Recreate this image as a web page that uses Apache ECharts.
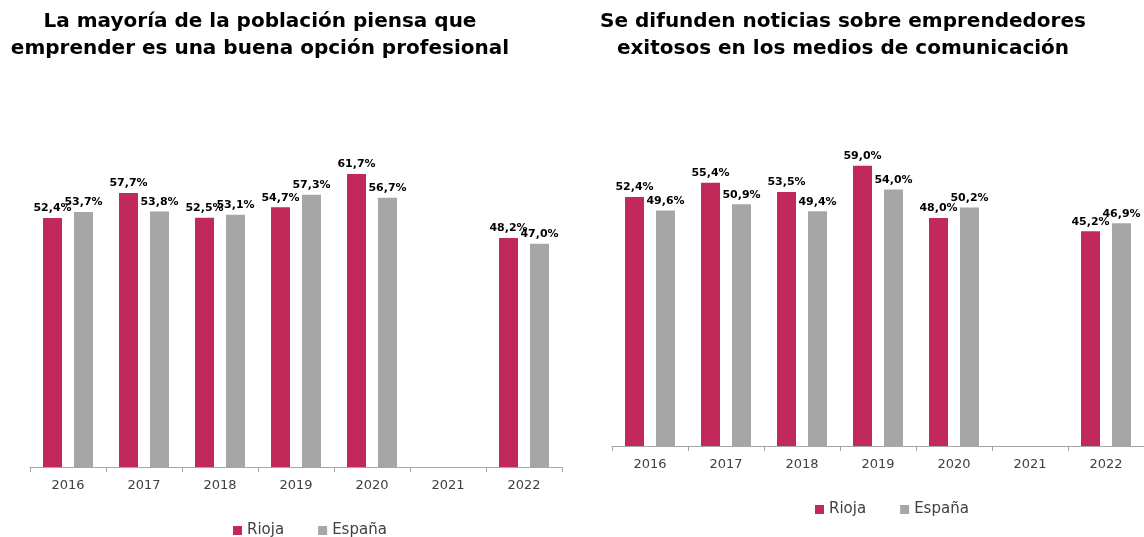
<!DOCTYPE html>
<html>
<head>
<meta charset="utf-8">
<script src="https://cdn.jsdelivr.net/npm/echarts@6/dist/echarts.min.js"></script>
<style>
  html, body { margin: 0; padding: 0; background: #fff; }
  #chart { width: 1144px; height: 537px; }
</style>
</head>
<body>
<div id="chart"></div>
<script>
const years = ['2016', '2017', '2018', '2019', '2020', '2021', '2022'];

// Izquierda: emprender es una buena opción profesional
const riojaOpcion = [52.4, 57.7, 52.5, 54.7, 61.7, null, 48.2];
const espanaOpcion = [53.7, 53.8, 53.1, 57.3, 56.7, null, 47.0];

// Derecha: noticias sobre emprendedores exitosos
const riojaNoticias = [52.4, 55.4, 53.5, 59.0, 48.0, null, 45.2];
const espanaNoticias = [49.6, 50.9, 49.4, 54.0, 50.2, null, 46.9];

const titleLeft = 'La mayoría de la población piensa que\nemprender es una buena opción profesional';
const titleRight = 'Se difunden noticias sobre emprendedores\nexitosos en los medios de comunicación';

const rojo = '#C0295A';
const gris = '#A6A6A6';
const font = 'DejaVu Sans';

function pct(v) {
    return v.toFixed(1).replace('.', ',') + '%';
}

function barSeries(name, data, color, idx) {
    return {
        name: name,
        type: 'bar',
        xAxisIndex: idx,
        yAxisIndex: idx,
        data: data,
        barWidth: 19,
        barGap: '63%',
        itemStyle: { color: color },
        label: {
            show: true,
            position: 'top',
            distance: 4,
            color: '#000',
            fontFamily: font,
            fontWeight: 'bold',
            fontSize: 11,
            formatter: function (p) { return pct(p.value); }
        }
    };
}

function xAxis(idx) {
    return {
        type: 'category',
        gridIndex: idx,
        data: years,
        axisLine: { lineStyle: { color: '#A6A6A6', width: 1 } },
        axisTick: { show: true, length: 5, lineStyle: { color: '#A6A6A6' } },
        axisLabel: { color: '#404040', fontFamily: font, fontSize: 13, margin: 12 }
    };
}

function yAxis(idx) {
    return {
        type: 'value',
        gridIndex: idx,
        min: 0,
        max: 70,
        show: false,
        splitLine: { show: false }
    };
}

function legend(left, top) {
    return {
        left: left,
        top: top,
        icon: 'rect',
        itemWidth: 9,
        itemHeight: 9,
        itemGap: 34,
        data: ['Rioja', 'España'],
        textStyle: { color: '#404040', fontFamily: font, fontSize: 15 }
    };
}

const chart = echarts.init(document.getElementById('chart'), null, { renderer: 'canvas' });

chart.setOption({
    animation: false,
    title: [
        {
            text: titleLeft, left: 255, top: 3, textAlign: 'center',
            textStyle: { fontFamily: font, fontWeight: 'bold', fontSize: 20, lineHeight: 27, color: '#000' }
        },
        {
            text: titleRight, left: 838, top: 3, textAlign: 'center',
            textStyle: { fontFamily: font, fontWeight: 'bold', fontSize: 20, lineHeight: 27, color: '#000' }
        }
    ],
    legend: [legend(228, 518), legend(810, 497)],
    grid: [
        { left: 30, width: 532, top: 134.5, height: 332.5 },
        { left: 612, width: 532, top: 113.5, height: 332.5 }
    ],
    xAxis: [xAxis(0), xAxis(1)],
    yAxis: [yAxis(0), yAxis(1)],
    series: [
        barSeries('Rioja', riojaOpcion, rojo, 0),
        barSeries('España', espanaOpcion, gris, 0),
        barSeries('Rioja', riojaNoticias, rojo, 1),
        barSeries('España', espanaNoticias, gris, 1)
    ]
});
</script>
</body>
</html>
